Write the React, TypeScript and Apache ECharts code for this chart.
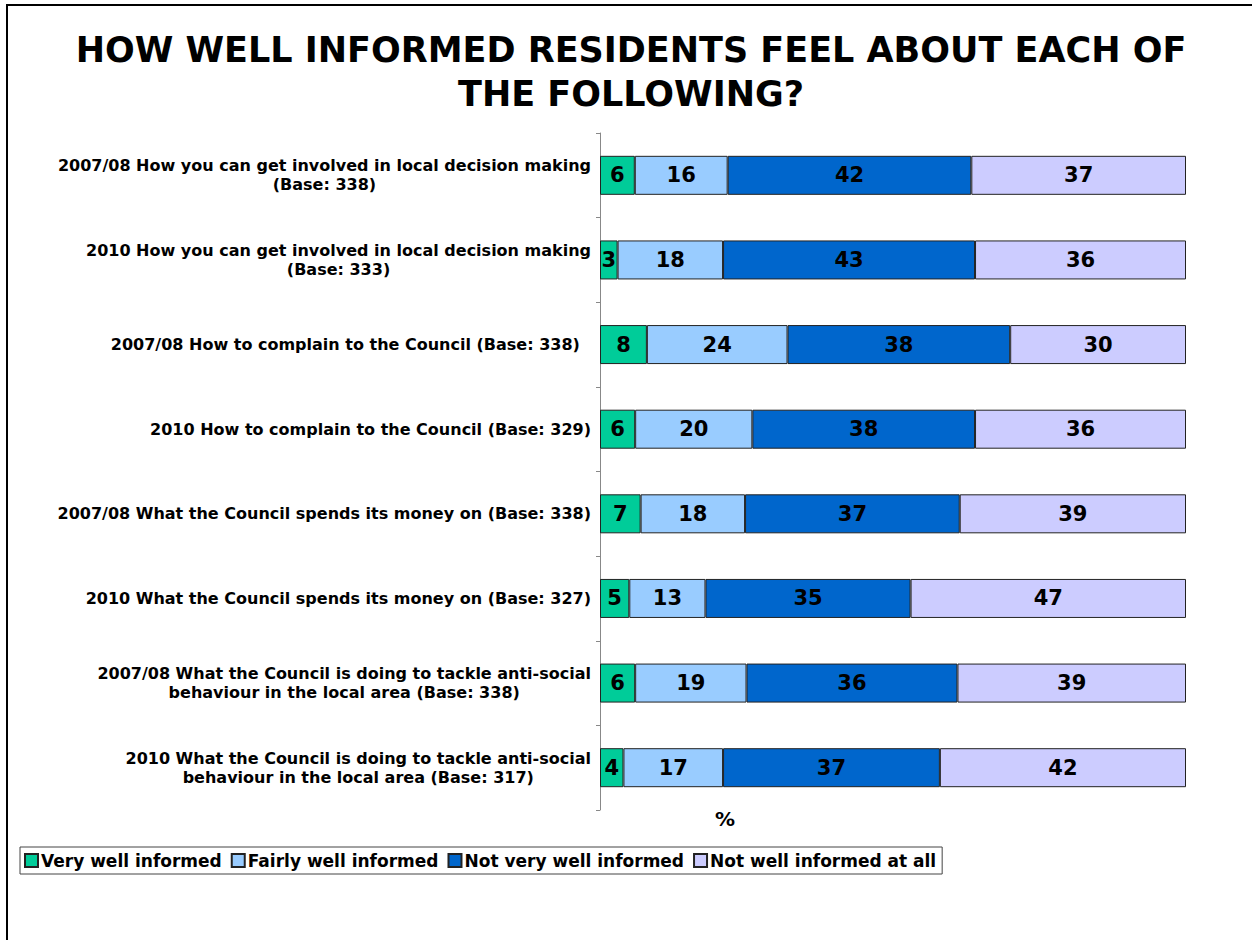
import React, { useEffect, useRef } from "react";
import * as echarts from "echarts";

const titleLines = ["HOW WELL INFORMED RESIDENTS FEEL ABOUT EACH OF", "THE FOLLOWING?"];

const categories = [
  "2007/08 How you can get involved in local decision making\n(Base: 338)",
  "2010 How you can get involved in local decision making\n(Base: 333)",
  "2007/08 How to complain to the Council (Base: 338)  ",
  "2010 How to complain to the Council (Base: 329)",
  "2007/08 What the Council spends its money on (Base: 338)",
  "2010 What the Council spends its money on (Base: 327)",
  "2007/08 What the Council is doing to tackle anti-social\nbehaviour in the local area (Base: 338)",
  "2010 What the Council is doing to tackle anti-social\nbehaviour in the local area (Base: 317)",
];

const seriesNames = [
  "Very well informed",
  "Fairly well informed",
  "Not very well informed",
  "Not well informed at all",
];

const veryWell = [6, 3, 8, 6, 7, 5, 6, 4];
const fairlyWell = [16, 18, 24, 20, 18, 13, 19, 17];
const notVeryWell = [42, 43, 38, 38, 37, 35, 36, 37];
const notAtAll = [37, 36, 30, 36, 39, 47, 39, 42];

const seriesValues = [veryWell, fairlyWell, notVeryWell, notAtAll];
const colors = ["#00CC99", "#99CCFF", "#0066CC", "#CCCCFF"];

const FONT = "'DejaVu Sans', Verdana, sans-serif";

export default function App() {
  const ref = useRef<HTMLDivElement>(null);

  useEffect(() => {
    if (!ref.current) return;
    const chart = echarts.init(ref.current, null, { renderer: "svg" });

    const totals = categories.map((_, i) =>
      seriesValues.reduce((s, arr) => s + arr[i], 0)
    );

    const series = seriesValues.map((arr, si) => ({
      name: seriesNames[si],
      type: "bar",
      stack: "total",
      barWidth: 39,
      data: arr.map((v, i) => (v / totals[i]) * 100),
      itemStyle: { color: colors[si], borderColor: "#222", borderWidth: 1 },
      label: {
        show: true,
        position: "inside",
        color: "#000",
        fontFamily: FONT,
        fontWeight: "bold",
        fontSize: 21,
        formatter: (p: any) => String(arr[p.dataIndex]),
      },
      emphasis: { disabled: true },
    }));

    chart.setOption({
      animation: false,
      graphic: [
        {
          type: "rect",
          shape: { x: 7, y: 5, width: 1400, height: 1100 },
          style: { fill: "none", stroke: "#000", lineWidth: 2 },
          silent: true,
        },
        {
          type: "text",
          x: 631,
          y: 50,
          style: {
            text: titleLines[0],
            font: `bold 35px ${FONT}`,
            fill: "#000",
            align: "center",
            verticalAlign: "middle",
          },
        },
        {
          type: "text",
          x: 631,
          y: 94,
          style: {
            text: titleLines[1],
            font: `bold 35px ${FONT}`,
            fill: "#000",
            align: "center",
            verticalAlign: "middle",
          },
        },
        {
          type: "text",
          x: 725,
          y: 819,
          style: {
            text: "%",
            font: `bold 20px ${FONT}`,
            fill: "#000",
            align: "center",
            verticalAlign: "middle",
          },
        },
      ],
      legend: {
        left: 20,
        top: 847,
        padding: [5, 6, 5, 4],
        itemGap: 9,
        itemWidth: 13,
        itemHeight: 13,
        icon: "rect",
        borderColor: "#444",
        borderWidth: 1,
        data: seriesNames,
        textStyle: {
          fontFamily: FONT,
          fontWeight: "bold",
          fontSize: 17,
          color: "#000",
          padding: [0, 0, 0, -2],
        },
      },
      grid: { left: 600, right: 66, top: 133, bottom: 130, containLabel: false },
      xAxis: { type: "value", min: 0, max: 100, show: false },
      yAxis: {
        type: "category",
        inverse: true,
        data: categories,
        axisLine: { show: true, lineStyle: { color: "#888", width: 1 } },
        axisTick: { show: true, length: 4, lineStyle: { color: "#888" } },
        axisLabel: {
          margin: 9,
          align: "right",
          formatter: (v: string) =>
            v
              .split("\n")
              .map((l) => `{c|${l}}`)
              .join("\n"),
          rich: {
            c: {
              align: "center",
              fontFamily: FONT,
              fontWeight: "bold",
              fontSize: 16,
              lineHeight: 19,
              color: "#000",
            },
          },
        },
        splitLine: { show: false },
      },
      series,
    });

    return () => chart.dispose();
  }, []);

  return (
    <div
      ref={ref}
      style={{ position: "absolute", left: 0, top: 0, width: 1252, height: 940, background: "#fff" }}
    />
  );
}
